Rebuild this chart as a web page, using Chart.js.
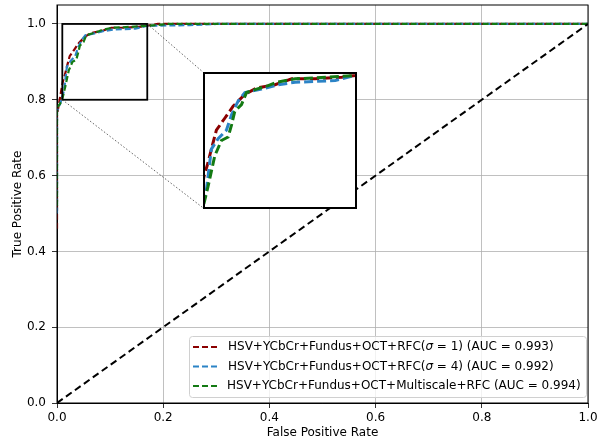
<!DOCTYPE html>
<html>
<head>
<meta charset="utf-8">
<script src="https://cdn.jsdelivr.net/npm/chart.js@4.4.1/dist/chart.umd.min.js"></script>
<style>
  html, body { margin: 0; padding: 0; background: #fff; }
  #wrap { position: relative; width: 597px; height: 442px; }
  #inset { position: absolute; }
  canvas { display: block; }
</style>
</head>
<body>
<div id="wrap">
  <canvas id="main" width="597" height="442"></canvas>
  <div id="inset"><canvas id="zoom"></canvas></div>
</div>
<script>
// ROC points
const fprS1 = [0, 0, 0.005, 0.011, 0.0152, 0.0187, 0.0239, 0.0326, 0.0413, 0.0535, 0.0657, 0.0848, 0.1022, 0.1265, 0.1543, 0.1683, 0.19, 1.0];
const tprS1 = [0.46, 0.76, 0.80, 0.8475, 0.8675, 0.8875, 0.915, 0.9325, 0.95, 0.9675, 0.9765, 0.9815, 0.99, 0.99, 0.9925, 0.995, 1.0, 1.0];

const fprS4 = [0, 0, 0.006, 0.011, 0.0135, 0.0187, 0.0257, 0.0343, 0.0396, 0.0465, 0.0535, 0.0709, 0.0883, 0.1057, 0.1474, 0.1683, 0.25, 0.30, 1.0];
const tprS4 = [0.50, 0.77, 0.79, 0.8125, 0.8275, 0.8875, 0.9025, 0.915, 0.9375, 0.9575, 0.97, 0.975, 0.9815, 0.985, 0.9875, 0.995, 0.997, 1.0, 1.0];

const fprMs = [0, 0, 0.006, 0.01, 0.0152, 0.0222, 0.0291, 0.0361, 0.0396, 0.043, 0.05, 0.0552, 0.0657, 0.0778, 0.0865, 0.1057, 0.1404, 0.1683, 0.21, 1.0];
const tprMs = [0.52, 0.78, 0.79, 0.8025, 0.8325, 0.8775, 0.90, 0.905, 0.9225, 0.9425, 0.9525, 0.97, 0.975, 0.98, 0.985, 0.99, 0.9925, 0.995, 1.0, 1.0];

const chanceFpr = [0, 1];
const chanceTpr = [0, 1];

const xTicks = [0, 0.2, 0.4, 0.6, 0.8, 1.0];
const yTicks = [0, 0.2, 0.4, 0.6, 0.8, 1.0];

const seriesLabels = [
  ['HSV+YCbCr+Fundus+OCT+RFC(', 'σ', ' = 1) (AUC = 0.993)'],
  ['HSV+YCbCr+Fundus+OCT+RFC(', 'σ', ' = 4) (AUC = 0.992)'],
  ['HSV+YCbCr+Fundus+OCT+Multiscale+RFC (AUC = 0.994)']
];
const colors = ['#8b0000', '#2b83c6', '#137a13'];

// zoomed region and where the inset sits (main data coords)
const zoomX = [0.01, 0.17];
const zoomY = [0.8, 1.0];
const insetX = [0.275, 0.563];
const insetY = [0.515, 0.873];

const FONT = 'DejaVu Sans';
const FSIZE = 12;
const pts = (xs, ys) => xs.map((x, i) => ({ x: x, y: ys[i] }));

function curves(width, dash) {
  return [
    { data: pts(fprS1, tprS1), borderColor: colors[0], borderWidth: width, borderDash: dash, order: 3 },
    { data: pts(fprS4, tprS4), borderColor: colors[1], borderWidth: width, borderDash: dash, order: 2 },
    { data: pts(fprMs, tprMs), borderColor: colors[2], borderWidth: width, borderDash: dash, order: 1 }
  ];
}

const common = { showLine: true, pointRadius: 0, fill: false, tension: 0 };

const overlay = {
  id: 'overlay',
  afterDraw(chart) {
    const { ctx, chartArea: a, scales: { x, y } } = chart;
    ctx.save();
    // frame
    ctx.strokeStyle = '#000';
    ctx.lineWidth = 1;
    ctx.strokeRect(a.left, a.top, a.right - a.left, a.bottom - a.top);

    // zoom box
    const bx0 = x.getPixelForValue(zoomX[0]), bx1 = x.getPixelForValue(zoomX[1]);
    const by0 = y.getPixelForValue(zoomY[0]), by1 = y.getPixelForValue(zoomY[1]);
    ctx.lineWidth = 1.8;
    ctx.strokeRect(bx0, by1, bx1 - bx0, by0 - by1);

    // connectors
    const ix0 = x.getPixelForValue(insetX[0]);
    const iy0 = y.getPixelForValue(insetY[0]), iy1 = y.getPixelForValue(insetY[1]);
    ctx.lineWidth = 0.7;
    ctx.setLineDash([1.5, 2]);
    ctx.strokeStyle = '#222';
    ctx.beginPath();
    ctx.moveTo(bx1, by1); ctx.lineTo(ix0, iy1);
    ctx.moveTo(bx0, by0); ctx.lineTo(ix0, iy0);
    ctx.stroke();
    ctx.setLineDash([]);

    // legend
    const lx = 189, ly = 336, lw = 397, lh = 61;
    ctx.fillStyle = 'rgba(255,255,255,0.8)';
    ctx.strokeStyle = '#d0d0d0';
    ctx.lineWidth = 1;
    ctx.beginPath();
    ctx.roundRect(lx + 0.5, ly + 0.5, lw, lh, 3);
    ctx.fill();
    ctx.stroke();
    const rows = [347, 366.5, 386];
    ctx.textBaseline = 'middle';
    seriesLabels.forEach((parts, i) => {
      const ry = rows[i];
      ctx.strokeStyle = colors[i];
      ctx.lineWidth = 2;
      ctx.setLineDash([6, 3]);
      ctx.beginPath();
      ctx.moveTo(193, ry); ctx.lineTo(217, ry);
      ctx.stroke();
      ctx.setLineDash([]);
      let tx = i === 2 ? 227 : 228;
      ctx.fillStyle = '#000';
      parts.forEach(p => {
        ctx.font = (p === 'σ' ? 'italic ' : '') + FSIZE + 'px "' + FONT + '"';
        ctx.fillText(p, tx, ry);
        tx += ctx.measureText(p).width;
      });
    });
    ctx.restore();
  }
};

const main = new Chart(document.getElementById('main'), {
  type: 'scatter',
  data: {
    datasets: curves(2.2, [6, 3]).map(d => Object.assign({}, common, d)).concat([
      Object.assign({}, common, { data: pts(chanceFpr, chanceTpr), borderColor: '#000', borderWidth: 2, borderDash: [7, 4], order: 0 })
    ])
  },
  options: {
    responsive: false,
    animation: false,
    devicePixelRatio: 1,
    layout: { padding: { left: 0, right: 9, top: 5, bottom: 0 } },
    plugins: { legend: { display: false }, tooltip: { enabled: false } },
    scales: {
      x: {
        type: 'linear', min: 0, max: 1,
        afterFit: s => { s.height = 39; s.paddingLeft = 0; s.paddingRight = 0; },
        afterBuildTicks: s => { s.ticks = xTicks.map(v => ({ value: v })); },
        ticks: { callback: v => v.toFixed(1), color: '#000', padding: 3, font: { family: FONT, size: FSIZE }, maxRotation: 0 },
        grid: { color: '#b0b0b0', lineWidth: 0.8, tickColor: '#000', tickLength: 5 },
        border: { color: '#000', width: 1 },
        title: { display: true, text: 'False Positive Rate', color: '#000', font: { family: FONT, size: FSIZE }, padding: { top: 0, bottom: 2 } }
      },
      y: {
        type: 'linear', min: 0, max: 1.05,
        afterFit: s => { s.width = 57; s.paddingTop = 0; s.paddingBottom = 0; },
        afterBuildTicks: s => { s.ticks = yTicks.map(v => ({ value: v })); },
        ticks: { callback: v => v.toFixed(1), color: '#000', padding: 6, font: { family: FONT, size: FSIZE } },
        grid: { color: '#b0b0b0', lineWidth: 0.8, tickColor: '#000', tickLength: 5 },
        border: { color: '#000', width: 1 },
        title: { display: true, text: 'True Positive Rate', color: '#000', font: { family: FONT, size: FSIZE }, padding: { top: 11, bottom: 0 } }
      }
    }
  },
  plugins: [overlay]
});

// inset axes placed from the main scales
const sx = main.scales.x, sy = main.scales.y;
const insLeft = Math.round(sx.getPixelForValue(insetX[0]));
const insRight = Math.round(sx.getPixelForValue(insetX[1]));
const insTop = Math.round(sy.getPixelForValue(insetY[1]));
const insBottom = Math.round(sy.getPixelForValue(insetY[0]));
const box = document.getElementById('inset');
box.style.left = insLeft + 'px';
box.style.top = insTop + 'px';
const zc = document.getElementById('zoom');
zc.width = insRight - insLeft + 1;
zc.height = insBottom - insTop + 1;

const insetFrame = {
  id: 'insetFrame',
  beforeDraw(chart) {
    const ctx = chart.ctx;
    ctx.save();
    ctx.fillStyle = '#fff';
    ctx.fillRect(0, 0, chart.width, chart.height);
    ctx.restore();
  },
  afterDraw(chart) {
    const ctx = chart.ctx;
    ctx.save();
    ctx.strokeStyle = '#000';
    ctx.lineWidth = 2;
    ctx.strokeRect(1, 1, chart.width - 2, chart.height - 2);
    ctx.restore();
  }
};

new Chart(zc, {
  type: 'scatter',
  data: { datasets: curves(3, [9, 4]).map(d => Object.assign({}, common, d)) },
  options: {
    responsive: false,
    animation: false,
    devicePixelRatio: 1,
    layout: { padding: 0 },
    plugins: { legend: { display: false }, tooltip: { enabled: false } },
    scales: {
      x: { type: 'linear', min: zoomX[0], max: zoomX[1], display: false },
      y: { type: 'linear', min: zoomY[0], max: zoomY[1], display: false }
    }
  },
  plugins: [insetFrame]
});
</script>
</body>
</html>
